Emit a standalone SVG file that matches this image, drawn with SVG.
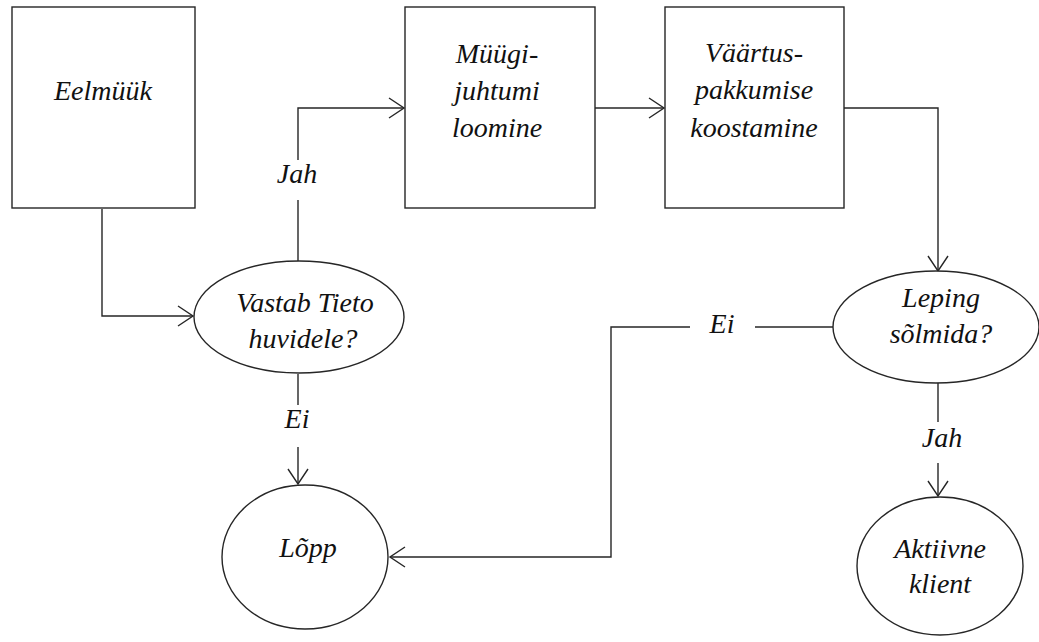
<svg xmlns="http://www.w3.org/2000/svg" width="1039" height="642" viewBox="0 0 1039 642">
  <style>
    .shape { fill: #ffffff; stroke: #262626; stroke-width: 1.4; }
    .wire { fill: none; stroke: #262626; stroke-width: 1.4; }
    .lbl { font-family: "Liberation Serif", "DejaVu Serif", serif; font-style: italic; font-size: 28px; fill: #111111; text-anchor: middle; }
  </style>
  <defs>
    <marker id="arrow" markerUnits="userSpaceOnUse" markerWidth="18" markerHeight="22" viewBox="0 0 18 22" refX="16" refY="11" orient="auto">
      <path d="M1,1 L16,11 L1,21" fill="none" stroke="#262626" stroke-width="1.4"/>
    </marker>
  </defs>
  <rect width="1039" height="642" fill="#ffffff"/>

  <!-- connectors -->
  <g id="connectors">
    <polyline class="wire" points="102,209 102,316 193,316" marker-end="url(#arrow)"/>
    <polyline class="wire" points="298,261 298,200"/>
    <polyline class="wire" points="298,160 298,108 404,108" marker-end="url(#arrow)"/>
    <polyline class="wire" points="595,108 664,108" marker-end="url(#arrow)"/>
    <polyline class="wire" points="844,108 938,108 938,271" marker-end="url(#arrow)"/>
    <polyline class="wire" points="298,374 298,405"/>
    <polyline class="wire" points="298,447 298,484" marker-end="url(#arrow)"/>
    <polyline class="wire" points="833,327 755,327"/>
    <polyline class="wire" points="690,327 611,327 611,557 390,557" marker-end="url(#arrow)"/>
    <polyline class="wire" points="938,383 938,422"/>
    <polyline class="wire" points="938,463 938,496" marker-end="url(#arrow)"/>
    <text class="lbl" x="297" y="183">Jah</text>
    <text class="lbl" x="297" y="428">Ei</text>
    <text class="lbl" x="722" y="333">Ei</text>
    <text class="lbl" x="942" y="447">Jah</text>
  </g>

  <g id="eelmuuk">
    <rect class="shape" x="12" y="7" width="183" height="201"/>
    <text class="lbl" x="103" y="100">Eelmüük</text>
  </g>

  <g id="muugijuhtum">
    <rect class="shape" x="405" y="7" width="190" height="201"/>
    <text class="lbl" x="497" y="63">Müügi-</text>
    <text class="lbl" x="497" y="100">juhtumi</text>
    <text class="lbl" x="497" y="137">loomine</text>
  </g>

  <g id="vaartuspakkumine">
    <rect class="shape" x="665" y="7" width="179" height="201"/>
    <text class="lbl" x="754" y="62">Väärtus-</text>
    <text class="lbl" x="754" y="99">pakkumise</text>
    <text class="lbl" x="754" y="137">koostamine</text>
  </g>

  <g id="vastab">
    <ellipse class="shape" cx="299" cy="317" rx="105" ry="56"/>
    <text class="lbl" x="305" y="312">Vastab Tieto</text>
    <text class="lbl" x="303" y="348">huvidele?</text>
  </g>

  <g id="leping">
    <ellipse class="shape" cx="936" cy="327" rx="103" ry="56"/>
    <text class="lbl" x="941" y="307">Leping</text>
    <text class="lbl" x="941" y="343">sõlmida?</text>
  </g>

  <g id="lopp">
    <ellipse class="shape" cx="305" cy="557" rx="83" ry="72"/>
    <text class="lbl" x="308" y="557">Lõpp</text>
  </g>

  <g id="aktiivne">
    <ellipse class="shape" cx="940" cy="566" rx="83" ry="69"/>
    <text class="lbl" x="940" y="558">Aktiivne</text>
    <text class="lbl" x="940" y="593">klient</text>
  </g>
</svg>
